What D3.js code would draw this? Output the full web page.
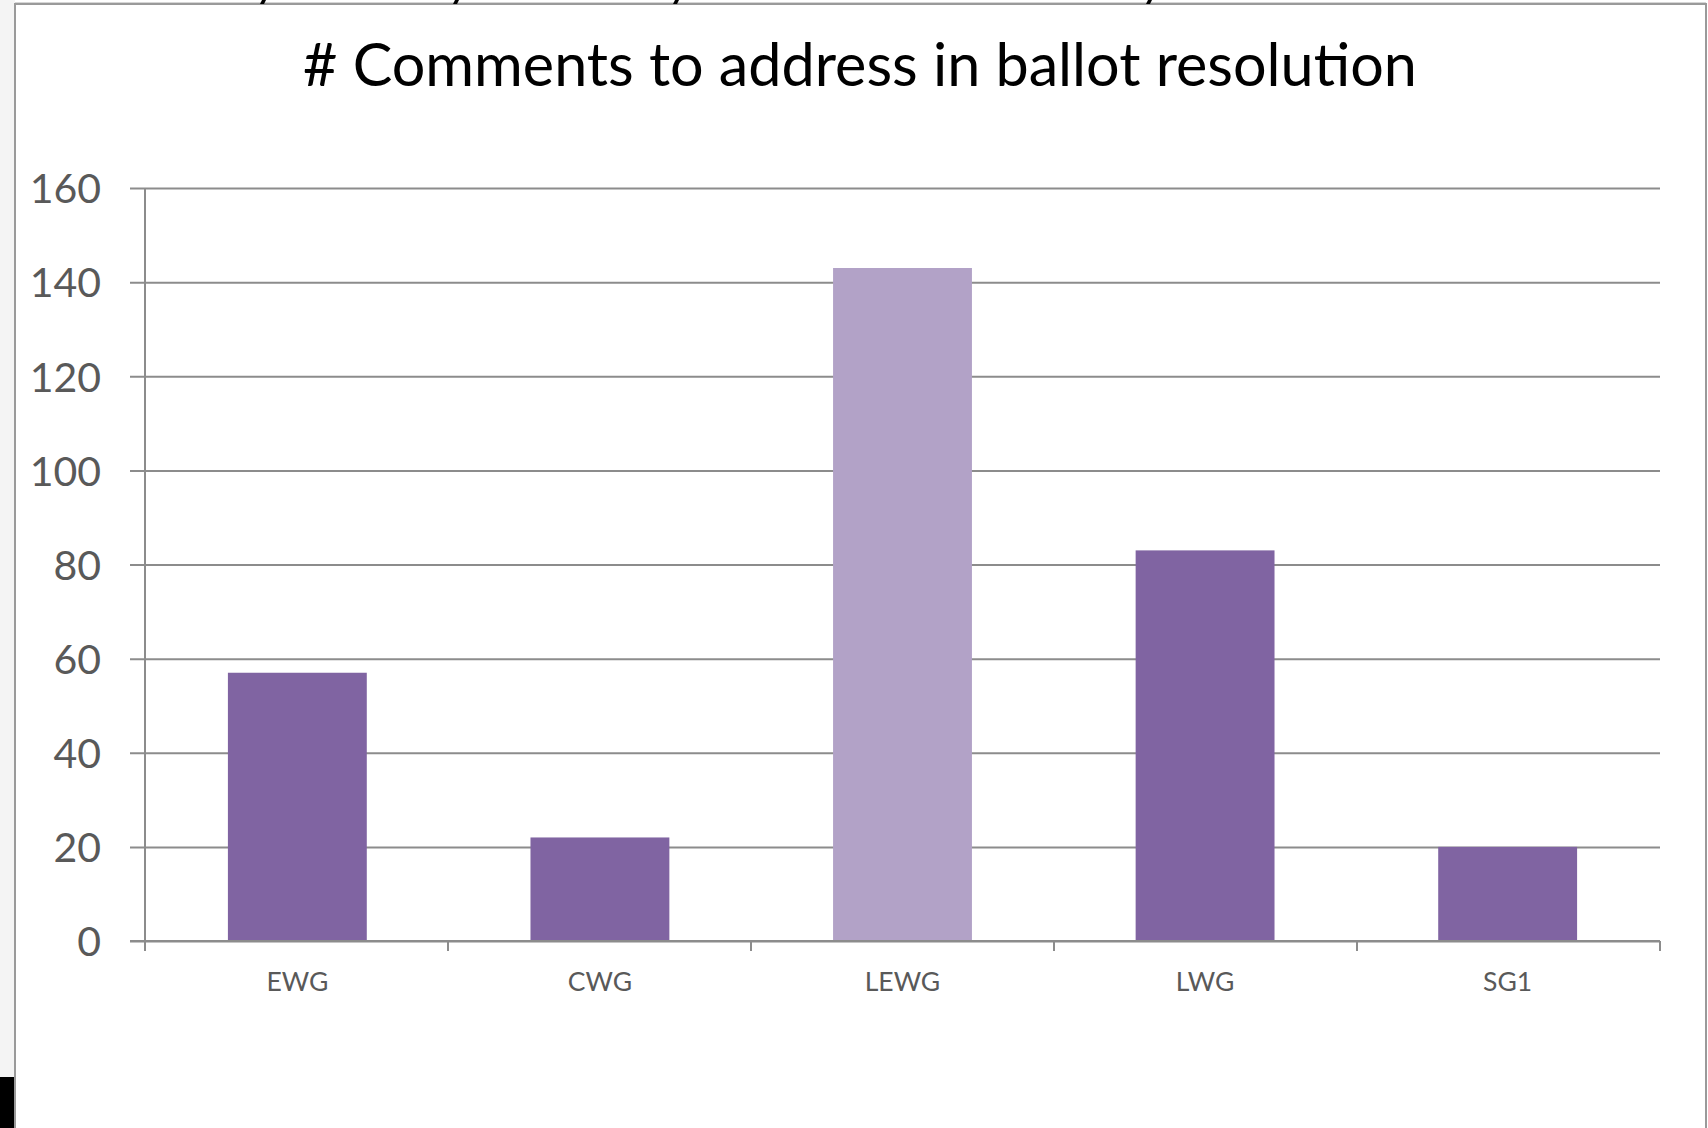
<!DOCTYPE html>
<html>
<head>
<meta charset="utf-8">
<script src="https://cdn.jsdelivr.net/npm/d3@7"></script>
<style>
  html, body { margin: 0; padding: 0; background: #ffffff; }
  svg { display: block; }
</style>
</head>
<body>
<svg id="chart" width="1708" height="1128"></svg>
<script>
const titleText = "# Comments to address in ballot resolution";
const categories = ["EWG", "CWG", "LEWG", "LWG", "SG1"];
const values = [57, 22, 143, 83, 20];
const highlighted = ["LEWG"];
const yTicks = [0, 20, 40, 60, 80, 100, 120, 140, 160];

const W = 1708, H = 1128;
const margin = { left: 145, right: 48, top: 188, bottom: 187 };
const plotW = W - margin.left - margin.right;
const plotH = H - margin.top - margin.bottom;

const svg = d3.select("#chart");

// page background outside the chart frame
svg.append("rect").attr("x", 0).attr("y", 0).attr("width", W).attr("height", H).attr("fill", "#ffffff");
svg.append("rect").attr("x", 0).attr("y", 0).attr("width", 15).attr("height", H).attr("fill", "#f4f4f4");
svg.append("rect").attr("x", 0).attr("y", 1077).attr("width", 15).attr("height", H - 1077).attr("fill", "#000000");
// frame
svg.append("path")
  .attr("d", `M15,${H} L15,4 L1706,4 L1706,${H}`)
  .attr("fill", "none").attr("stroke", "#9a9a9a").attr("stroke-width", 2);
svg.append("line").attr("x1", 15).attr("x2", 1706).attr("y1", 2.5).attr("y2", 2.5)
  .attr("stroke", "#d6d6d6").attr("stroke-width", 1);
// cut-off glyph fragments along the top edge
[262, 455, 675, 1148].forEach(x => {
  svg.append("path")
    .attr("d", `M${x},0 L${x + 4},0 L${x + 2},4 L${x - 2},4 Z`)
    .attr("fill", "#000");
});

const x = d3.scaleBand().domain(categories).range([margin.left, margin.left + plotW])
  .paddingInner(0.541).paddingOuter(0.274);
const y = d3.scaleLinear().domain([0, 160]).range([margin.top + plotH, margin.top]);

// gridlines + y axis
const yAxis = d3.axisLeft(y).tickValues(yTicks).tickSize(-plotW - 15).tickFormat(d3.format("d")).tickPadding(30);
const gy = svg.append("g").attr("transform", `translate(${margin.left},0)`).call(yAxis);
gy.select(".domain").remove();
gy.selectAll(".tick line").attr("x1", -15).attr("x2", plotW)
  .attr("stroke", "#8c8c8c").attr("stroke-width", 2);
gy.selectAll(".tick text")
  .attr("fill", "#595959")
  .style("font-family", "Lato, 'Open Sans', sans-serif")
  .style("font-size", "41px")
  .attr("dy", "0.36em")
  .attr("x", -44);

svg.append("line")
  .attr("x1", margin.left).attr("x2", margin.left)
  .attr("y1", margin.top).attr("y2", margin.top + plotH + 10)
  .attr("stroke", "#8c8c8c").attr("stroke-width", 2);

// bars
svg.append("g").selectAll("rect").data(categories).join("rect")
  .attr("x", d => x(d))
  .attr("width", x.bandwidth())
  .attr("y", (d, i) => y(values[i]))
  .attr("height", (d, i) => y(0) - y(values[i]))
  .attr("fill", d => highlighted.includes(d) ? "#b2a2c7" : "#8064a2");

// x axis baseline + ticks
const step = plotW / categories.length;
const gx = svg.append("g").attr("transform", `translate(0,${margin.top + plotH})`);
gx.append("line").attr("x1", margin.left - 15).attr("x2", margin.left + plotW)
  .attr("stroke", "#8c8c8c").attr("stroke-width", 2);
d3.range(categories.length + 1).forEach(i => {
  const tx = margin.left + i * step;
  gx.append("line").attr("x1", tx).attr("x2", tx).attr("y1", 0).attr("y2", 10)
    .attr("stroke", "#8c8c8c").attr("stroke-width", 2);
});
gx.selectAll("text.cat").data(categories).join("text")
  .attr("class", "cat")
  .attr("x", d => x(d) + x.bandwidth() / 2)
  .attr("y", 50)
  .attr("text-anchor", "middle")
  .attr("fill", "#595959")
  .style("font-family", "Lato, 'Open Sans', sans-serif")
  .style("font-size", "26.5px")
  .text(d => d);

// title
svg.append("text")
  .attr("x", 860).attr("y", 86)
  .attr("text-anchor", "middle")
  .attr("fill", "#000000")
  .style("font-family", "Lato, 'Open Sans', sans-serif")
  .style("font-size", "59.3px")
  .text(titleText);
</script>
</body>
</html>
